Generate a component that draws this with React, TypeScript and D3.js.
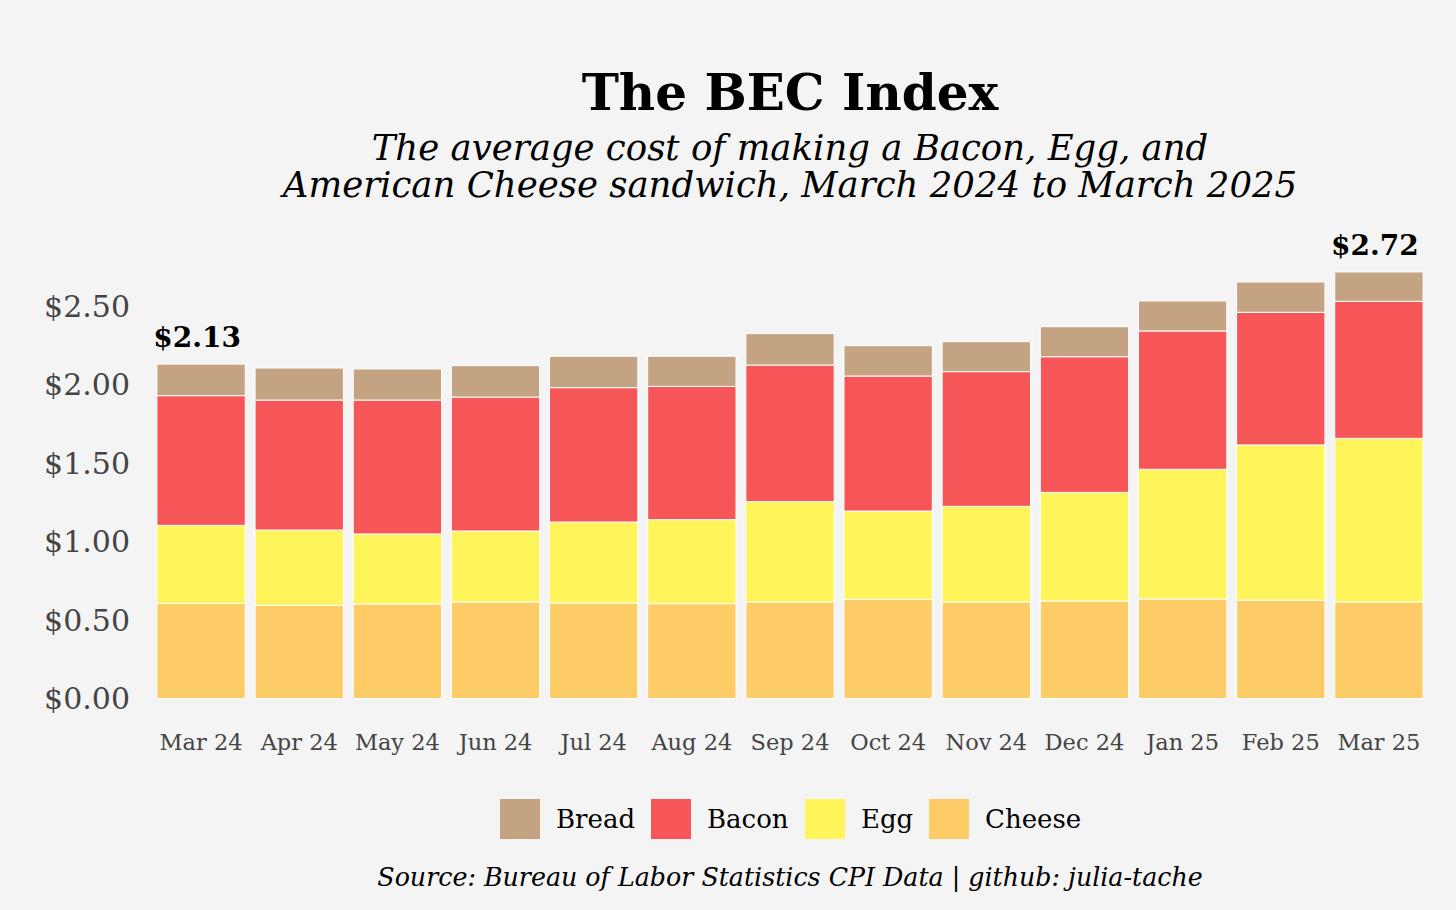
import { useEffect } from 'react';
import * as d3 from 'd3';

const months = ['Mar 24', 'Apr 24', 'May 24', 'Jun 24', 'Jul 24', 'Aug 24', 'Sep 24', 'Oct 24', 'Nov 24', 'Dec 24', 'Jan 25', 'Feb 25', 'Mar 25'];
const cheese = [0.606, 0.594, 0.602, 0.615, 0.608, 0.604, 0.615, 0.632, 0.615, 0.621, 0.634, 0.627, 0.615];
const egg = [0.497, 0.479, 0.446, 0.452, 0.516, 0.535, 0.639, 0.562, 0.609, 0.692, 0.826, 0.988, 1.042];
const bacon = [0.826, 0.828, 0.853, 0.853, 0.856, 0.849, 0.870, 0.860, 0.858, 0.864, 0.881, 0.845, 0.873];
const bread = [0.201, 0.204, 0.198, 0.200, 0.200, 0.192, 0.200, 0.193, 0.191, 0.191, 0.191, 0.193, 0.187];
const yTicks = [0, 0.5, 1, 1.5, 2, 2.5];

const KEYS = ['cheese', 'egg', 'bacon', 'bread'];
const COLORS: Record<string, string> = {
    bread: '#c4a383',
    bacon: '#f65657',
    egg: '#fff55a',
    cheese: '#fecc66',
};
const LEGEND = [
    { key: 'bread', label: 'Bread' },
    { key: 'bacon', label: 'Bacon' },
    { key: 'egg', label: 'Egg' },
    { key: 'cheese', label: 'Cheese' },
];

const W = 1456;
const H = 910;
const BG = '#f4f4f4';
const FONT = '"DejaVu Serif", serif';

export default function App() {
    useEffect(() => {
        document.body.style.margin = '0';
        document.body.style.background = BG;
    }, []);

    const rows = months.map((m, i) => ({
        month: m,
        cheese: cheese[i],
        egg: egg[i],
        bacon: bacon[i],
        bread: bread[i],
    }));
    const series = d3.stack<any>().keys(KEYS)(rows);

    const x = d3.scaleBand<string>()
        .domain(months)
        .range([152, 1428])
        .paddingInner(0.1)
        .paddingOuter(0.05);
    const y = d3.scaleLinear().domain([0, 2.5]).range([698.5, 306]);

    const cx = 790;
    const totals = rows.map(r => r.cheese + r.egg + r.bacon + r.bread);
    const first = 0;
    const last = months.length - 1;

    return (
        <svg width={W} height={H} style={{ display: 'block', background: BG, fontFamily: FONT }}>
            <rect width={W} height={H} fill={BG} />

            {/* titles */}
            <text x={cx} y={110} textAnchor="middle" fontSize={50} fontWeight={700} fill="#000">
                The BEC Index
            </text>
            <text x={cx} y={160} textAnchor="middle" fontSize={35.5} fontStyle="italic" fill="#000">
                The average cost of making a Bacon, Egg, and
            </text>
            <text x={cx} y={197} textAnchor="middle" fontSize={35.5} fontStyle="italic" fill="#000">
                American Cheese sandwich, March 2024 to March 2025
            </text>

            {/* y axis labels */}
            {yTicks.map(t => (
                <text key={t} x={130} y={y(t)} dy="0.36em" textAnchor="end" fontSize={30} fill="#444">
                    {d3.format('$.2f')(t)}
                </text>
            ))}

            {/* stacked bars */}
            {series.map(s => (
                <g key={s.key} fill={COLORS[s.key]}>
                    {s.map((d, i) => (
                        <rect
                            key={i}
                            x={x(months[i])}
                            y={y(d[1])}
                            width={x.bandwidth()}
                            height={y(d[0]) - y(d[1])}
                            stroke="#fff"
                            strokeWidth={1}
                        />
                    ))}
                </g>
            ))}

            {/* x labels */}
            {months.map(m => (
                <text key={m} x={(x(m) ?? 0) + x.bandwidth() / 2} y={750} textAnchor="middle" fontSize={22.5} fill="#444">
                    {m}
                </text>
            ))}

            {/* first / last totals */}
            {[first, last].map(i => (
                <text
                    key={i}
                    x={(x(months[i]) ?? 0) + x.bandwidth() / 2 - 4}
                    y={y(totals[i]) - 17}
                    textAnchor="middle"
                    fontSize={28}
                    fontWeight={700}
                    fill="#000"
                >
                    {d3.format('$.2f')(totals[i])}
                </text>
            ))}

            {/* legend */}
            {LEGEND.map((l, i) => {
                const lx = [500, 651, 805, 929][i];
                return (
                    <g key={l.key}>
                        <rect x={lx} y={799} width={40} height={40} fill={COLORS[l.key]} />
                        <text x={lx + 56} y={819} dy="0.36em" fontSize={26} fill="#000">{l.label}</text>
                    </g>
                );
            })}

            {/* source */}
            <text x={cx} y={886} textAnchor="middle" fontSize={25.3} fontStyle="italic" fill="#000">
                Source: Bureau of Labor Statistics CPI Data | github: julia-tache
            </text>
        </svg>
    );
}
